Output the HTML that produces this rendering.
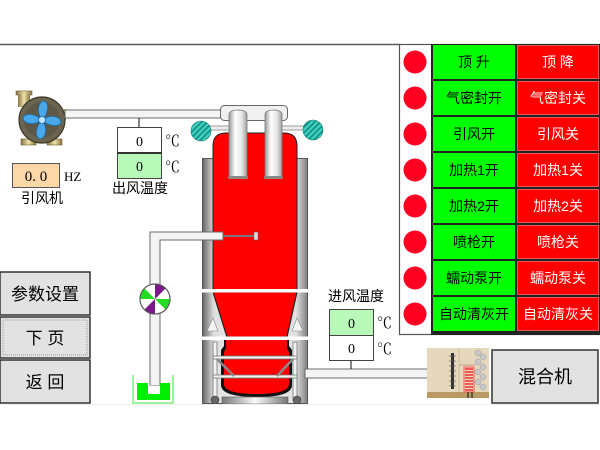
<!DOCTYPE html>
<html><head><meta charset="utf-8">
<style>
html,body{margin:0;padding:0;background:#fff;}
svg{display:block;}
text{font-family:"Liberation Serif","Noto Serif CJK SC",serif;}
.s{font-family:"Liberation Sans","Noto Sans CJK SC",sans-serif;}
</style></head><body>
<svg width="600" height="450" viewBox="0 0 600 450" xmlns="http://www.w3.org/2000/svg">
<defs>
<linearGradient id="frame" x1="0" x2="1" y1="0" y2="0">
<stop offset="0" stop-color="#666"/><stop offset="0.11" stop-color="#e0e0e0"/>
<stop offset="0.5" stop-color="#f0f0f0"/><stop offset="0.89" stop-color="#e0e0e0"/><stop offset="1" stop-color="#808080"/>
</linearGradient>
<linearGradient id="cyl" x1="0" x2="1" y1="0" y2="0">
<stop offset="0" stop-color="#9a9a9a"/><stop offset="0.35" stop-color="#ffffff"/><stop offset="0.7" stop-color="#e6e6e6"/><stop offset="1" stop-color="#a0a0a0"/>
</linearGradient>
<linearGradient id="brass" x1="0" x2="1" y1="0" y2="0">
<stop offset="0" stop-color="#8a7440"/><stop offset="0.5" stop-color="#f0e2a8"/><stop offset="1" stop-color="#8a7440"/>
</linearGradient>
<linearGradient id="base" x1="0" x2="1" y1="0" y2="0">
<stop offset="0" stop-color="#777"/><stop offset="0.5" stop-color="#fafafa"/><stop offset="1" stop-color="#777"/>
</linearGradient>
<pattern id="hatch" width="4" height="4" patternUnits="userSpaceOnUse" patternTransform="rotate(45)">
<rect width="4" height="4" fill="#3ed0c0"/><rect width="1.6" height="4" fill="#158a80"/>
</pattern>
</defs>

<!-- top line -->
<line x1="0" y1="44.5" x2="400" y2="44.5" stroke="#5a5a5a" stroke-width="1.5"/>

<!-- fan -->
<rect x="16" y="91" width="16" height="4" fill="url(#brass)" stroke="#6a5a30" stroke-width="0.6"/>
<rect x="18" y="94" width="12" height="13" fill="url(#brass)"/>
<rect x="21" y="139" width="15" height="6" fill="url(#brass)" stroke="#6a5a30" stroke-width="0.6"/>
<rect x="47" y="139" width="15" height="6" fill="url(#brass)" stroke="#6a5a30" stroke-width="0.6"/>
<rect x="60" y="109" width="6" height="11" fill="url(#brass)"/>
<circle cx="42" cy="120" r="23" fill="#6b6450" stroke="#3c3626" stroke-width="1.2"/>
<circle cx="42" cy="120" r="18" fill="#5e5846"/>
<g fill="#48a8ea" stroke="#1a6aa8" stroke-width="0.8">
<path d="M42 120 C36 112 38 102 44 101 C50 103 48 114 42 120Z"/>
<path d="M42 120 C50 114 60 116 61 122 C59 128 48 126 42 120Z"/>
<path d="M42 120 C48 128 46 138 40 139 C34 137 36 126 42 120Z"/>
<path d="M42 120 C34 126 24 124 23 118 C25 112 36 114 42 120Z"/>
</g>
<circle cx="42" cy="120" r="3.5" fill="#bfe6ff" stroke="#1a6aa8" stroke-width="0.8"/>

<!-- pipe from fan to manifold -->
<rect x="65" y="110" width="157" height="8" fill="#f4f4f4" stroke="#6a6a6a" stroke-width="1"/>
<line x1="139" y1="118" x2="139" y2="127" stroke="#333" stroke-width="1.2"/>

<!-- outlet temp box -->
<rect x="117.5" y="127.5" width="44" height="26" fill="#fff" stroke="#444"/>
<rect x="117.5" y="153.5" width="44" height="25" fill="#b8f8b8" stroke="#444"/>
<line x1="117" y1="153" x2="162" y2="153" stroke="#333" stroke-width="2"/>
<text x="139.5" y="146" font-size="14" text-anchor="middle">0</text>
<text x="139.5" y="171" font-size="14" text-anchor="middle">0</text>
<text x="165" y="146" font-size="15">℃</text>
<text x="165" y="172" font-size="15">℃</text>
<text class="s" x="140" y="193" font-size="14" text-anchor="middle">出风温度</text>

<!-- freq box -->
<rect x="12.5" y="163.5" width="47" height="24" fill="#fcd8a8" stroke="#555"/>
<text x="36" y="181" font-size="15" text-anchor="middle" font-family="Liberation Mono, monospace">0. 0</text>
<text x="64" y="181" font-size="13">HZ</text>
<text class="s" x="42" y="203" font-size="14" text-anchor="middle">引风机</text>

<!-- tower frame -->
<rect x="202.5" y="158.5" width="105" height="245" fill="url(#frame)" stroke="#555" stroke-width="1"/>

<!-- manifold -->
<rect x="220.5" y="105.5" width="67" height="15" rx="4" fill="#f0f0f0" stroke="#666"/>

<!-- side balls and pipes -->
<rect x="209" y="126" width="22" height="4" fill="#eee" stroke="#777" stroke-width="0.7"/>
<rect x="281" y="126" width="24" height="4" fill="#eee" stroke="#777" stroke-width="0.7"/>
<circle cx="201" cy="131" r="10" fill="url(#hatch)" stroke="#1a7a70" stroke-width="0.6"/>
<circle cx="313" cy="130" r="10" fill="url(#hatch)" stroke="#1a7a70" stroke-width="0.6"/>

<!-- red upper body -->
<path d="M213 290 L213 146 Q213 133 226 133 L284 133 Q297 133 297 146 L297 290 Z" fill="#ff0000" stroke="#222" stroke-width="1"/>
<!-- cone -->
<path d="M213 292 L227 337 L287 337 L297 292 Z" fill="#ff0000" stroke="#222" stroke-width="1.2"/>
<path d="M207 331 L213 318 L218 331 Z" fill="#f4f4f4" stroke="#888" stroke-width="0.6"/>
<path d="M292 331 L297 318 L303 331 Z" fill="#f4f4f4" stroke="#888" stroke-width="0.6"/>

<!-- white bands -->
<rect x="200" y="289" width="111" height="3.5" fill="#fff"/>
<rect x="200" y="336.5" width="111" height="3.5" fill="#fff"/>

<!-- cylinders -->
<g stroke="#777" stroke-width="0.8">
<path d="M229 115 Q229 110 238 110 Q247 110 247 115 L247 177 L229 177 Z" fill="url(#cyl)"/>
<path d="M265 115 Q265 110 273.5 110 Q282 110 282 115 L282 177 L265 177 Z" fill="url(#cyl)"/>
</g>
<rect x="228" y="176" width="20" height="3" rx="1.5" fill="#888"/>
<rect x="264" y="176" width="19" height="3" rx="1.5" fill="#888"/>

<!-- lower drum -->
<path d="M224 340 L289 340 L289 346 L292 350 L292 385 Q292 397 257 397 Q221 397 221 385 L221 350 L224 346 Z" fill="#111"/>
<path d="M226 340 L287 340 L287 348 L289 352 L289 384 Q289 394 257 394 Q224 394 224 384 L224 352 L226 348 Z" fill="#ff0000"/>
<rect x="222" y="397" width="66" height="7" fill="url(#base)" stroke="#555" stroke-width="0.6"/>

<!-- legs / frame -->
<g stroke="#777" stroke-width="0.8" fill="#f2f2f2">
<rect x="213" y="342" width="4" height="56"/>
<rect x="293" y="342" width="4" height="56"/>
<rect x="213" y="356" width="84" height="3"/>
<rect x="213" y="375" width="84" height="3"/>
</g>
<line x1="217" y1="359" x2="234" y2="376" stroke="#888" stroke-width="2.5"/>
<line x1="293" y1="359" x2="277" y2="376" stroke="#888" stroke-width="2.5"/>
<circle cx="215" cy="400" r="4" fill="#666" stroke="#333" stroke-width="0.6"/>
<circle cx="297" cy="400" r="4" fill="#666" stroke="#333" stroke-width="0.6"/>

<!-- spray pipe -->
<path d="M150 385 L150 232 L223 232 L223 240 L160 240 L160 385 Z" fill="#f4f4f4" stroke="#6a6a6a" stroke-width="1"/>
<line x1="223" y1="236" x2="255" y2="236" stroke="#777" stroke-width="2"/>
<rect x="254" y="232" width="4" height="8" fill="#ddd" stroke="#666" stroke-width="0.6"/>

<!-- valve -->
<g transform="translate(155 299)">
<circle r="15" fill="#fff" stroke="#555" stroke-width="1"/>
<path d="M0 0 L0 -15 A15 15 0 0 1 10.6 -10.6 Z" fill="#7a1a8a"/>
<path d="M0 0 L15 0 A15 15 0 0 1 10.6 10.6 Z" fill="#22dd22"/>
<path d="M0 0 L0 15 A15 15 0 0 1 -10.6 10.6 Z" fill="#7a1a8a"/>
<path d="M0 0 L-15 0 A15 15 0 0 1 -10.6 -10.6 Z" fill="#22dd22"/>
<circle r="15" fill="none" stroke="#555" stroke-width="1"/>
</g>

<!-- green container -->
<path d="M133 375 L133 403 L173 403 L173 375" fill="none" stroke="#80f080" stroke-width="1.5"/>
<path d="M137 383 L148 383 L148 394 L160 394 L160 383 L170 383 L170 400 L137 400 Z" fill="#00ee00"/>
<rect x="150" y="375" width="10" height="10" fill="#f4f4f4"/>
<line x1="150" y1="375" x2="150" y2="385" stroke="#6a6a6a"/>
<line x1="160" y1="375" x2="160" y2="385" stroke="#6a6a6a"/>

<!-- left buttons -->
<g stroke="#333" stroke-width="1.5" fill="#e2e2e2">
<rect x="0" y="272" width="90" height="43"/>
<rect x="0" y="317" width="90" height="41"/>
<rect x="0" y="360" width="90" height="43"/>
</g>
<rect x="3" y="320" width="84" height="35" fill="none" stroke="#999" stroke-width="1" stroke-dasharray="1 1"/>
<text class="s" x="45" y="300" font-size="17" text-anchor="middle">参数设置</text>
<text class="s" x="45" y="344" font-size="17" text-anchor="middle">下 页</text>
<text class="s" x="45" y="388" font-size="17" text-anchor="middle">返 回</text>

<!-- right pipe to mixer -->
<rect x="305" y="369" width="123" height="9" fill="#f4f4f4" stroke="#6a6a6a" stroke-width="1"/>
<line x1="351" y1="360" x2="351" y2="369" stroke="#333" stroke-width="1.2"/>

<!-- inlet temp box -->
<rect x="329.5" y="309.5" width="44" height="26" fill="#b8f8b8" stroke="#444"/>
<rect x="329.5" y="335.5" width="44" height="25" fill="#fff" stroke="#444"/>
<text x="351.5" y="328" font-size="14" text-anchor="middle">0</text>
<text x="351.5" y="353" font-size="14" text-anchor="middle">0</text>
<text x="377" y="328" font-size="15">℃</text>
<text x="377" y="354" font-size="15">℃</text>
<text class="s" x="356" y="301" font-size="14" text-anchor="middle">进风温度</text>

<!-- mixer image -->
<rect x="427" y="348" width="62" height="50" fill="#e6d8bc"/>
<rect x="427" y="392" width="62" height="6" fill="#b89a62"/>
<line x1="459" y1="348" x2="459" y2="392" stroke="#cbbb98" stroke-width="1"/>
<line x1="459" y1="365" x2="475" y2="365" stroke="#b8a888" stroke-width="1"/>
<rect x="451" y="353" width="3" height="36" fill="#333"/>
<g fill="none" stroke="#555" stroke-width="0.6">
<line x1="449" y1="356" x2="456" y2="356"/><line x1="449" y1="361" x2="456" y2="361"/>
<line x1="449" y1="366" x2="456" y2="366"/><line x1="449" y1="371" x2="456" y2="371"/>
<line x1="449" y1="376" x2="456" y2="376"/><line x1="449" y1="381" x2="456" y2="381"/>
<line x1="449" y1="386" x2="456" y2="386"/>
</g>
<g fill="none" stroke="#f03030" stroke-width="1.6">
<path d="M465 369 h8 M465 372 h8 M465 375 h8 M465 378 h8 M465 381 h8 M465 384 h8 M465 387 h8 M465 390 h8"/>
</g>
<rect x="464" y="367" width="10" height="25" fill="none" stroke="#ff5050" stroke-width="1"/>
<g fill="#c8c8c8" stroke="#999" stroke-width="0.5">
<circle cx="478" cy="353" r="3"/><circle cx="483" cy="357" r="3"/><circle cx="478" cy="362" r="3"/>
<circle cx="483" cy="367" r="3"/><circle cx="478" cy="372" r="3"/><circle cx="483" cy="377" r="3"/>
<circle cx="478" cy="382" r="3"/><circle cx="483" cy="387" r="3"/>
</g>
<line x1="468" y1="392" x2="468" y2="398" stroke="#222" stroke-width="1.2"/>
<line x1="472" y1="392" x2="472" y2="398" stroke="#222" stroke-width="1.2"/>

<!-- mixer button -->
<rect x="492" y="350" width="106" height="53" fill="#e2e2e2" stroke="#333" stroke-width="1.5"/>
<text class="s" x="545" y="383" font-size="18" text-anchor="middle">混合机</text>

<!-- bottom faint line -->
<line x1="0" y1="404.5" x2="600" y2="404.5" stroke="#eee" stroke-width="1"/>

<!-- right control panel -->
<rect x="399.5" y="44.5" width="200" height="290" fill="#fff" stroke="#555" stroke-width="1.2"/>
<rect x="431" y="44" width="169" height="291" fill="#222"/>
<g fill="#00ff00">
<rect x="433" y="45" width="82" height="34"/><rect x="433" y="81" width="82" height="34"/>
<rect x="433" y="117" width="82" height="34"/><rect x="433" y="153" width="82" height="34"/>
<rect x="433" y="189" width="82" height="34"/><rect x="433" y="225" width="82" height="34"/>
<rect x="433" y="261" width="82" height="34"/><rect x="433" y="297" width="82" height="34"/>
</g>
<g fill="#ff0000" stroke="#ff6a6a" stroke-width="0.8">
<rect x="517.5" y="45.5" width="81" height="33"/><rect x="517.5" y="81.5" width="81" height="33"/>
<rect x="517.5" y="117.5" width="81" height="33"/><rect x="517.5" y="153.5" width="81" height="33"/>
<rect x="517.5" y="189.5" width="81" height="33"/><rect x="517.5" y="225.5" width="81" height="33"/>
<rect x="517.5" y="261.5" width="81" height="33"/><rect x="517.5" y="297.5" width="81" height="33"/>
</g>
<g fill="#ff0022">
<circle cx="415" cy="62" r="11.5"/><circle cx="415" cy="98" r="11.5"/>
<circle cx="415" cy="134" r="11.5"/><circle cx="415" cy="170" r="11.5"/>
<circle cx="415" cy="206" r="11.5"/><circle cx="415" cy="242" r="11.5"/>
<circle cx="415" cy="278" r="11.5"/><circle cx="415" cy="314" r="11.5"/>
</g>
<g class="s" font-size="14" text-anchor="middle" fill="#000">
<text class="s" x="474" y="67">顶 升</text>
<text class="s" x="474" y="103">气密封开</text>
<text class="s" x="474" y="139">引风开</text>
<text class="s" x="474" y="175">加热1开</text>
<text class="s" x="474" y="211">加热2开</text>
<text class="s" x="474" y="247">喷枪开</text>
<text class="s" x="474" y="283">蠕动泵开</text>
<text class="s" x="474" y="319">自动清灰开</text>
</g>
<g font-size="14" text-anchor="middle" fill="#fff">
<text class="s" x="558" y="67">顶 降</text>
<text class="s" x="558" y="103">气密封关</text>
<text class="s" x="558" y="139">引风关</text>
<text class="s" x="558" y="175">加热1关</text>
<text class="s" x="558" y="211">加热2关</text>
<text class="s" x="558" y="247">喷枪关</text>
<text class="s" x="558" y="283">蠕动泵关</text>
<text class="s" x="558" y="319">自动清灰关</text>
</g>
</svg>
</body></html>
